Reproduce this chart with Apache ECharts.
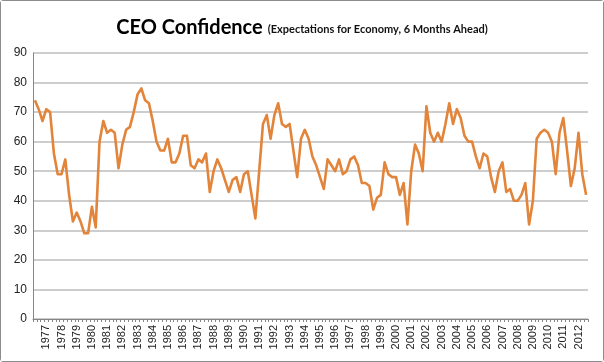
<!DOCTYPE html>
<html>
<head>
<meta charset="utf-8">
<script src="https://cdn.jsdelivr.net/npm/echarts@6/dist/echarts.min.js"></script>
<style>
  html, body { margin: 0; padding: 0; background: #fff; }
  #chart { width: 604px; height: 362px; box-sizing: border-box; border: 1px solid #8c8c8c; border-radius: 3px; }
</style>
</head>
<body>
<div id="chart"></div>
<script>
// Quarterly series, first quarter 1976 Q2
const startYear = 1976;
const startQuarter = 2;
const values = [
  74,71,67,71,70,56,49,49,54,42,
  33,36,33,29,29,38,31,60,67,63,
  64,63,51,59,64,65,70,76,78,74,
  73,67,60,57,57,61,53,53,56,62,
  62,52,51,54,53,56,43,50,54,51,
  47,43,47,48,43,49,50,42,34,50,
  66,69,61,69,73,66,65,66,57,48,
  61,64,61,55,52,48,44,54,52,50,
  54,49,50,54,55,52,46,46,45,37,
  41,42,53,49,48,48,42,46,32,50,
  59,56,50,72,63,60,63,60,66,73,
  66,71,68,62,60,60,55,51,56,55,
  48,43,50,53,43,44,40,40,42,46,
  32,40,61,63,64,63,60,49,63,68,
  57,45,51,63,49,42
];
const yTicks = [0,10,20,30,40,50,60,70,80,90];

const categories = values.map((v, i) => {
  const q = startQuarter - 1 + i;
  return (startYear + Math.floor(q / 4)) + ' Q' + (q % 4 + 1);
});

const chart = echarts.init(document.getElementById('chart'), null, { renderer: 'canvas' });
chart.setOption({
  animation: false,
  backgroundColor: '#fff',
  title: {
    left: 'center',
    top: 4,
    text: '{a|CEO Confidence} {b|(Expectations for Economy, 6 Months Ahead)}',
    textStyle: {
      rich: {
        a: { fontFamily: 'Lato', fontWeight: 'bold', fontSize: 20, color: '#000', lineHeight: 28, verticalAlign: 'bottom' },
        b: { fontFamily: 'Lato', fontSize: 11, color: '#111', lineHeight: 28, verticalAlign: 'bottom', padding: [0,0,3,0] }
      }
    }
  },
  grid: { left: 32, right: 15, top: 52, bottom: 42, containLabel: false },
  xAxis: {
    type: 'category',
    data: categories,
    boundaryGap: true,
    axisLine: { lineStyle: { color: '#868686', width: 1 } },
    axisTick: { show: true, interval: 0, length: 3, lineStyle: { color: '#868686' } },
    axisLabel: {
      interval: (idx, name) => name.endsWith('Q1'),
      formatter: (name) => name.slice(0, 4),
      rotate: 90,
      fontFamily: 'Liberation Sans',
      fontSize: 11,
      color: '#222',
      margin: 6
    },
    splitLine: { show: false }
  },
  yAxis: {
    type: 'value',
    min: yTicks[0],
    max: yTicks[yTicks.length - 1],
    interval: 10,
    axisLine: { show: true, lineStyle: { color: '#868686', width: 1 } },
    axisTick: { show: false },
    axisLabel: { fontFamily: 'Liberation Sans', fontSize: 12, color: '#222', margin: 6 },
    splitLine: { lineStyle: { color: '#bdbdbd', width: 1.5 } }
  },
  series: [{
    type: 'line',
    data: values,
    symbol: 'none',
    smooth: false,
    lineStyle: { color: '#E2843A', width: 2.6, join: 'round' },
    z: 3
  }]
});
</script>
</body>
</html>
